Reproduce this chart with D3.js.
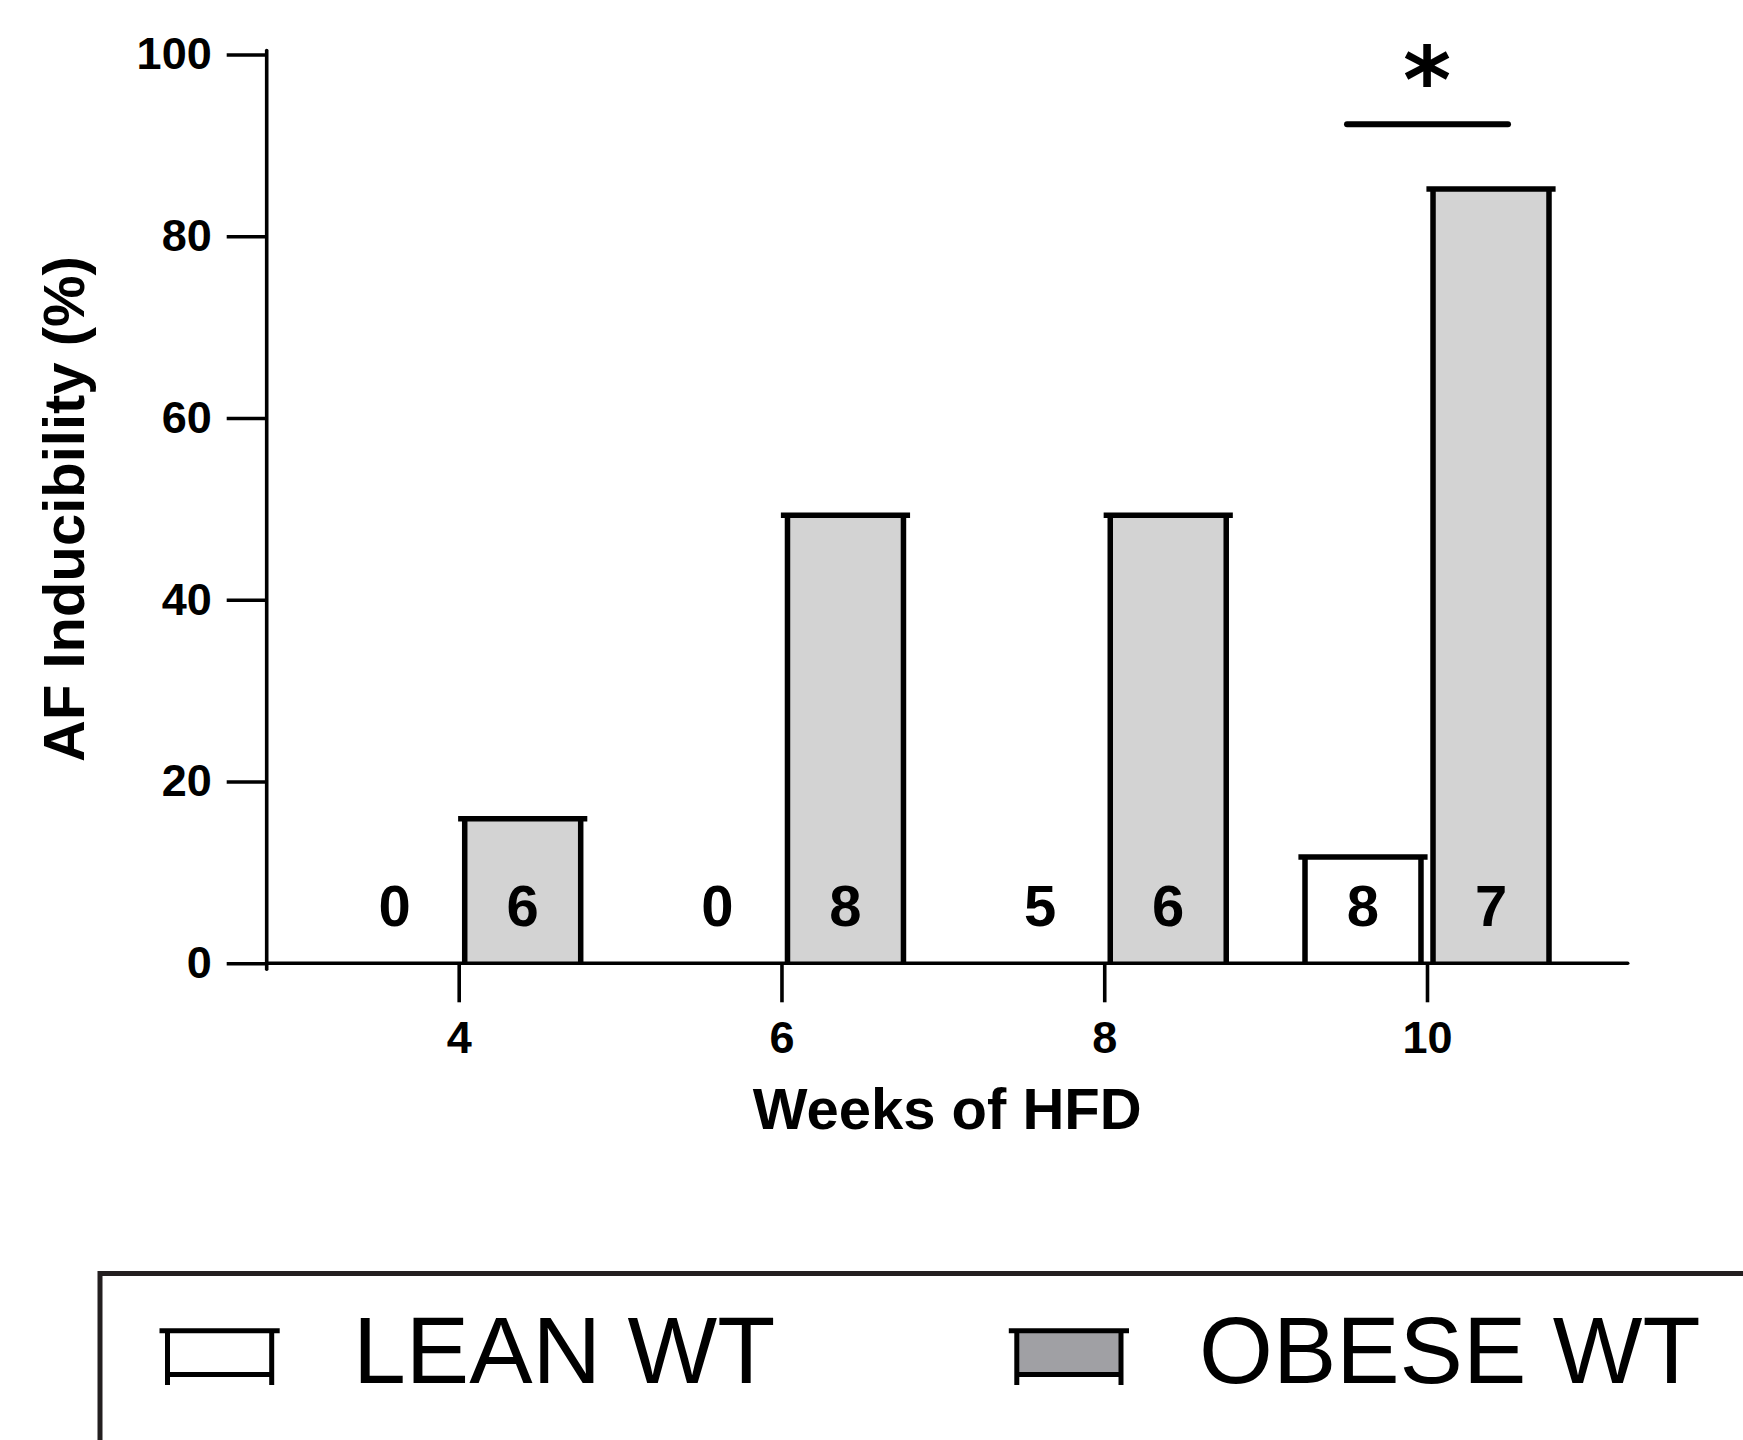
<!DOCTYPE html>
<html>
<head>
<meta charset="utf-8">
<script src="https://cdn.jsdelivr.net/npm/d3@7"></script>
<style>
  html, body { margin: 0; padding: 0; background: #fff; }
  svg { display: block; }
</style>
</head>
<body>
<div id="chart"></div>
<script>
// AF inducibility (%) by weeks of high-fat diet, lean vs obese wild-type mice
const weeks = ["4", "6", "8", "10"];
const leanPct = [0, 0, 0, 11.7];
const obesePct = [15.9, 49.3, 49.3, 85.2];
const leanN = [0, 0, 5, 8];
const obeseN = [6, 8, 6, 7];
const yTicks = [0, 20, 40, 60, 80, 100];
const groupKeys = ["lean", "obese"];
const groupNames = ["LEAN WT", "OBESE WT"];
const groupFill = { lean: "#ffffff", obese: "#d3d3d3" };
const legendFill = { lean: "#ffffff", obese: "#a0a0a4" };
const sigWeek = "10";
const sigText = "*";

const W = 1743, H = 1440;
const FONT = "'Liberation Sans', Arial, Helvetica, sans-serif";

const svg = d3.select("#chart").append("svg")
  .attr("width", W).attr("height", H)
  .attr("viewBox", `0 0 ${W} ${H}`);

svg.append("rect").attr("width", W).attr("height", H).attr("fill", "#fff");

const axisX = 266.7;        // y-axis position
const axisRight = 1627.7;   // end of baseline

const y = d3.scaleLinear().domain([0, 100]).range([963.3, 54.5]);
const x0 = d3.scalePoint().domain(weeks).range([458.7, 1427]);
const x1 = d3.scaleBand().domain(groupKeys).range([-122, 122]).paddingInner(0.094);

// rows of bar data
const rows = weeks.flatMap((w, i) => [
  { week: w, key: "lean", value: leanPct[i], n: leanN[i] },
  { week: w, key: "obese", value: obesePct[i], n: obeseN[i] }
]);

const SW = 5.5;     // outline width
const CAP = 6.6;    // top cap overhang

const bars = svg.append("g").attr("class", "bars");
rows.filter(d => d.value > 0).forEach(d => {
  const bx = x0(d.week) + x1(d.key);
  const bw = x1.bandwidth();
  const top = y(d.value), base = y(0);
  const g = bars.append("g");
  g.append("rect")
    .attr("x", bx).attr("y", top)
    .attr("width", bw).attr("height", base - top)
    .attr("fill", groupFill[d.key]);
  g.append("path")
    .attr("d", `M${bx},${base}V${top}M${bx + bw},${base}V${top}`)
    .attr("stroke", "#000").attr("stroke-width", SW).attr("fill", "none");
  g.append("path")
    .attr("d", `M${bx - CAP},${top}H${bx + bw + CAP}`)
    .attr("stroke", "#000").attr("stroke-width", SW).attr("fill", "none");
});

// sample-size labels for each bar slot
svg.append("g").selectAll("text")
  .data(rows)
  .join("text")
  .attr("x", d => x0(d.week) + x1(d.key) + x1.bandwidth() / 2)
  .attr("y", 926)
  .attr("text-anchor", "middle")
  .attr("font-family", FONT)
  .attr("font-weight", "bold")
  .attr("font-size", 58)
  .attr("fill", "#000")
  .text(d => d.n);

// y axis
const yAxis = svg.append("g")
  .attr("transform", `translate(${axisX},0)`)
  .call(d3.axisLeft(y).tickValues(yTicks).tickSize(40).tickPadding(15).tickFormat(d3.format("d")));
yAxis.select(".domain").remove();
yAxis.selectAll(".tick line").attr("stroke", "#000").attr("stroke-width", 3.6);
yAxis.selectAll(".tick text")
  .attr("font-family", FONT).attr("font-weight", "bold")
  .attr("font-size", 45).attr("fill", "#000");
svg.append("line")
  .attr("x1", axisX).attr("x2", axisX)
  .attr("y1", y(100) - 4).attr("y2", y(0) + 6)
  .attr("stroke", "#000").attr("stroke-width", 3.6).attr("stroke-linecap", "round");

// x axis
const xAxis = svg.append("g")
  .attr("transform", `translate(0,${y(0)})`)
  .call(d3.axisBottom(x0).tickSize(39).tickPadding(19));
xAxis.select(".domain").remove();
xAxis.selectAll(".tick line").attr("stroke", "#000").attr("stroke-width", 3.6);
xAxis.selectAll(".tick text")
  .attr("font-family", FONT).attr("font-weight", "bold")
  .attr("font-size", 45).attr("fill", "#000");
svg.append("line")
  .attr("x1", axisX).attr("x2", axisRight)
  .attr("y1", y(0)).attr("y2", y(0))
  .attr("stroke", "#000").attr("stroke-width", 3.6).attr("stroke-linecap", "round");

// axis titles
svg.append("text")
  .attr("x", (axisX + axisRight) / 2).attr("y", 1129)
  .attr("text-anchor", "middle")
  .attr("font-family", FONT).attr("font-weight", "bold").attr("font-size", 58)
  .attr("fill", "#000")
  .text("Weeks of HFD");

svg.append("text")
  .attr("transform", `translate(84,${509}) rotate(-90)`)
  .attr("text-anchor", "middle")
  .attr("font-family", FONT).attr("font-weight", "bold").attr("font-size", 58)
  .attr("fill", "#000")
  .text("AF Inducibility (%)");

// significance bracket
const sx = x0(sigWeek);
svg.append("line")
  .attr("x1", sx - 80).attr("x2", sx + 81)
  .attr("y1", 124.3).attr("y2", 124.3)
  .attr("stroke", "#000").attr("stroke-width", 6).attr("stroke-linecap", "round");
svg.append("text")
  .attr("x", sx).attr("y", 113)
  .attr("text-anchor", "middle")
  .attr("font-family", "'DejaVu Sans', sans-serif").attr("font-weight", "bold").attr("font-size", 92)
  .attr("fill", "#000")
  .text(sigText);

// legend
const legend = svg.append("g");
legend.append("rect")
  .attr("x", 100).attr("y", 1273.5)
  .attr("width", 1800).attr("height", 400)
  .attr("fill", "none").attr("stroke", "#231f20").attr("stroke-width", 5);

const legendItems = [
  { key: "lean", name: groupNames[0], sx: 167.5, tx: 353 },
  { key: "obese", name: groupNames[1], sx: 1016.8, tx: 1199 }
];
legendItems.forEach(it => {
  const g = legend.append("g");
  const w = 104.2, top = 1330.8, bot = 1374.5, foot = 1385;
  g.append("rect").attr("x", it.sx).attr("y", top)
    .attr("width", w).attr("height", bot - top)
    .attr("fill", legendFill[it.key]);
  g.append("path")
    .attr("d", `M${it.sx},${top}V${foot}M${it.sx + w},${top}V${foot}M${it.sx},${bot}H${it.sx + w}`)
    .attr("stroke", "#000").attr("stroke-width", 5).attr("fill", "none");
  g.append("path")
    .attr("d", `M${it.sx - 8},${top}H${it.sx + w + 8}`)
    .attr("stroke", "#000").attr("stroke-width", 5).attr("fill", "none");
  g.append("text")
    .attr("x", it.tx).attr("y", 1382.5)
    .attr("font-family", FONT).attr("font-size", 95)
    .attr("fill", "#000")
    .text(it.name);
});
</script>
</body>
</html>
